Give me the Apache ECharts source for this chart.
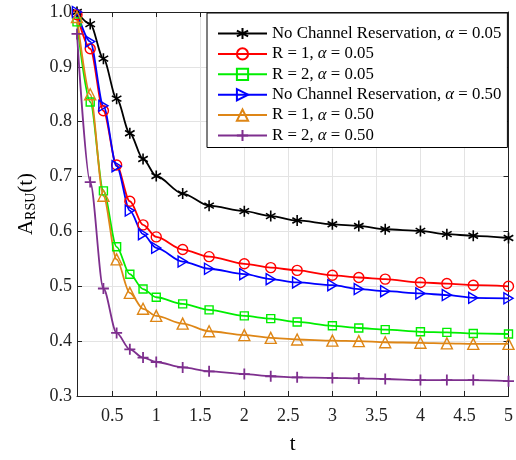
<!DOCTYPE html>
<html>
<head>
<meta charset="utf-8">
<script src="https://cdn.jsdelivr.net/npm/echarts@6/dist/echarts.min.js"></script>
<style>html,body{margin:0;padding:0;background:#fff}#c{width:516px;height:460px}</style>
</head>
<body>
<div id="c"></div>
<script>
const tPoints = [0.1, 0.25, 0.4, 0.55, 0.7, 0.85, 1.0, 1.3, 1.6, 2.0, 2.3, 2.6, 3.0, 3.3, 3.6, 4.0, 4.3, 4.6, 5.0];
const noResA005 = [1.0, 0.978, 0.915, 0.842, 0.779, 0.732, 0.701, 0.669, 0.647, 0.637, 0.628, 0.620, 0.613, 0.610, 0.604, 0.601, 0.595, 0.592, 0.588];
const r1A005 = [0.995, 0.933, 0.820, 0.721, 0.655, 0.612, 0.590, 0.567, 0.554, 0.541, 0.534, 0.529, 0.520, 0.516, 0.513, 0.507, 0.505, 0.502, 0.500];
const r2A005 = [0.982, 0.836, 0.674, 0.572, 0.522, 0.495, 0.480, 0.468, 0.457, 0.446, 0.441, 0.435, 0.428, 0.424, 0.421, 0.417, 0.416, 0.414, 0.413];
const noResA050 = [1.0, 0.946, 0.829, 0.719, 0.638, 0.595, 0.570, 0.545, 0.532, 0.522, 0.513, 0.507, 0.502, 0.495, 0.491, 0.487, 0.484, 0.479, 0.478];
const r1A050 = [0.991, 0.850, 0.665, 0.549, 0.488, 0.459, 0.446, 0.432, 0.418, 0.411, 0.406, 0.403, 0.401, 0.400, 0.398, 0.397, 0.396, 0.395, 0.395];
const r2A050 = [0.96, 0.69, 0.496, 0.415, 0.385, 0.370, 0.362, 0.352, 0.345, 0.340, 0.336, 0.334, 0.333, 0.332, 0.331, 0.329, 0.329, 0.329, 0.327];
const xTicks = [0.5, 1, 1.5, 2, 2.5, 3, 3.5, 4, 4.5, 5];
const seriesNames = [
  'No Channel Reservation, α = 0.05',
  'R = 1, α = 0.05',
  'R = 2, α = 0.05',
  'No Channel Reservation, α = 0.50',
  'R = 1, α = 0.50',
  'R = 2, α = 0.50'
];

const serif = 'Liberation Serif';
const STAR = 'path://M0,-6L0,6M-5.2,-3L5.2,3M-5.2,3L5.2,-3';
const PLUS = 'path://M0,-6L0,6M-6,0L6,0';
const TRI_R = 'path://M0,0L10,6L0,12Z';

function mk(name, vals, color, symbol, size, bw) {
  return {
    name: name,
    type: 'line',
    data: tPoints.map((t, i) => [t, vals[i]]),
    smooth: 0.3,
    smoothMonotone: 'x',
    symbol: symbol,
    symbolSize: size,
    symbolKeepAspect: true,
    showAllSymbol: true,
    lineStyle: { color: color, width: 1.8 },
    itemStyle: { color: 'rgba(0,0,0,0)', borderColor: color, borderWidth: bw },
    emphasis: { disabled: true },
    animation: false
  };
}

const chart = echarts.init(document.getElementById('c'), null, { renderer: 'canvas' });
chart.setOption({
  backgroundColor: '#fff',
  animation: false,
  grid: { left: 77, right: 4, top: 12, bottom: 59, containLabel: false },
  legend: {
    orient: 'vertical',
    left: 207, top: 13,
    padding: [12, 6, 3.5, 10],
    itemWidth: 49, itemHeight: 14, itemGap: 3.4,
    borderColor: '#000', borderWidth: 1, backgroundColor: '#fff',
    data: seriesNames,
    formatter: function (n) {
      const i = n.indexOf('α');
      return '{n|' + n.slice(0, i) + '}{a|α}{n|' + n.slice(i + 1) + '}';
    },
    textStyle: {
      color: '#000', fontFamily: serif, fontSize: 16.8, lineHeight: 17,
      rich: {
        n: { fontFamily: serif, fontSize: 16.8, color: '#000', lineHeight: 17 },
        a: { fontFamily: serif, fontSize: 16.8, fontStyle: 'italic', color: '#000', lineHeight: 17 }
      }
    },
    selectedMode: false,
    z: 10
  },
  xAxis: [{
    type: 'value', min: 0.1, max: 5,
    name: 't', nameLocation: 'middle', nameGap: 38,
    nameTextStyle: { fontFamily: serif, fontSize: 21, color: '#000' },
    axisLine: { show: true, onZero: false, lineStyle: { color: '#222', width: 1 } },
    axisTick: { show: true, inside: true, length: 5, customValues: xTicks, lineStyle: { color: '#222' } },
    axisLabel: { customValues: xTicks, margin: 11, fontFamily: serif, fontSize: 18, color: '#222',
      formatter: v => String(v) },
    splitLine: { show: true, lineStyle: { color: '#e3e3e3', width: 1 } }
  }, {
    type: 'value', min: 0.1, max: 5, position: 'top',
    axisLine: { show: true, onZero: false, lineStyle: { color: '#222', width: 1 } },
    axisTick: { show: true, inside: true, length: 5, customValues: xTicks, lineStyle: { color: '#222' } },
    axisLabel: { show: false },
    splitLine: { show: false }
  }],
  yAxis: [{
    type: 'value', min: 0.3, max: 1.0, interval: 0.1,
    name: '{a|A}{s|RSU}{a|(t)}', nameLocation: 'middle', nameGap: 38, nameRotate: 90,
    nameTextStyle: {
      rich: {
        a: { fontFamily: serif, fontSize: 21, color: '#000', lineHeight: 22 },
        s: { fontFamily: serif, fontSize: 14, color: '#000', lineHeight: 16, padding: [10, 0, 0, 0] }
      }
    },
    axisLine: { show: true, onZero: false, lineStyle: { color: '#222', width: 1 } },
    axisTick: { show: true, inside: true, length: 5, lineStyle: { color: '#222' } },
    axisLabel: { margin: 5, fontFamily: serif, fontSize: 18, color: '#222', formatter: v => v.toFixed(1) },
    splitLine: { show: true, lineStyle: { color: '#e3e3e3', width: 1 } }
  }, {
    type: 'value', min: 0.3, max: 1.0, interval: 0.1, position: 'right',
    axisLine: { show: true, onZero: false, lineStyle: { color: '#222', width: 1 } },
    axisTick: { show: true, inside: true, length: 5, lineStyle: { color: '#222' } },
    axisLabel: { show: false },
    splitLine: { show: false }
  }],
  series: [
    mk(seriesNames[0], noResA005, '#000000', STAR, 11, 1.6),
    mk(seriesNames[1], r1A005, '#ff0000', 'circle', 10, 1.4),
    mk(seriesNames[2], r2A005, '#00ee00', 'rect', 8, 1.4),
    mk(seriesNames[3], noResA050, '#0000ff', TRI_R, 11, 1.4),
    mk(seriesNames[4], r1A050, '#de8616', 'triangle', 11, 1.4),
    mk(seriesNames[5], r2A050, '#7e2f8e', PLUS, 11, 1.8)
  ]
});
</script>
</body>
</html>
